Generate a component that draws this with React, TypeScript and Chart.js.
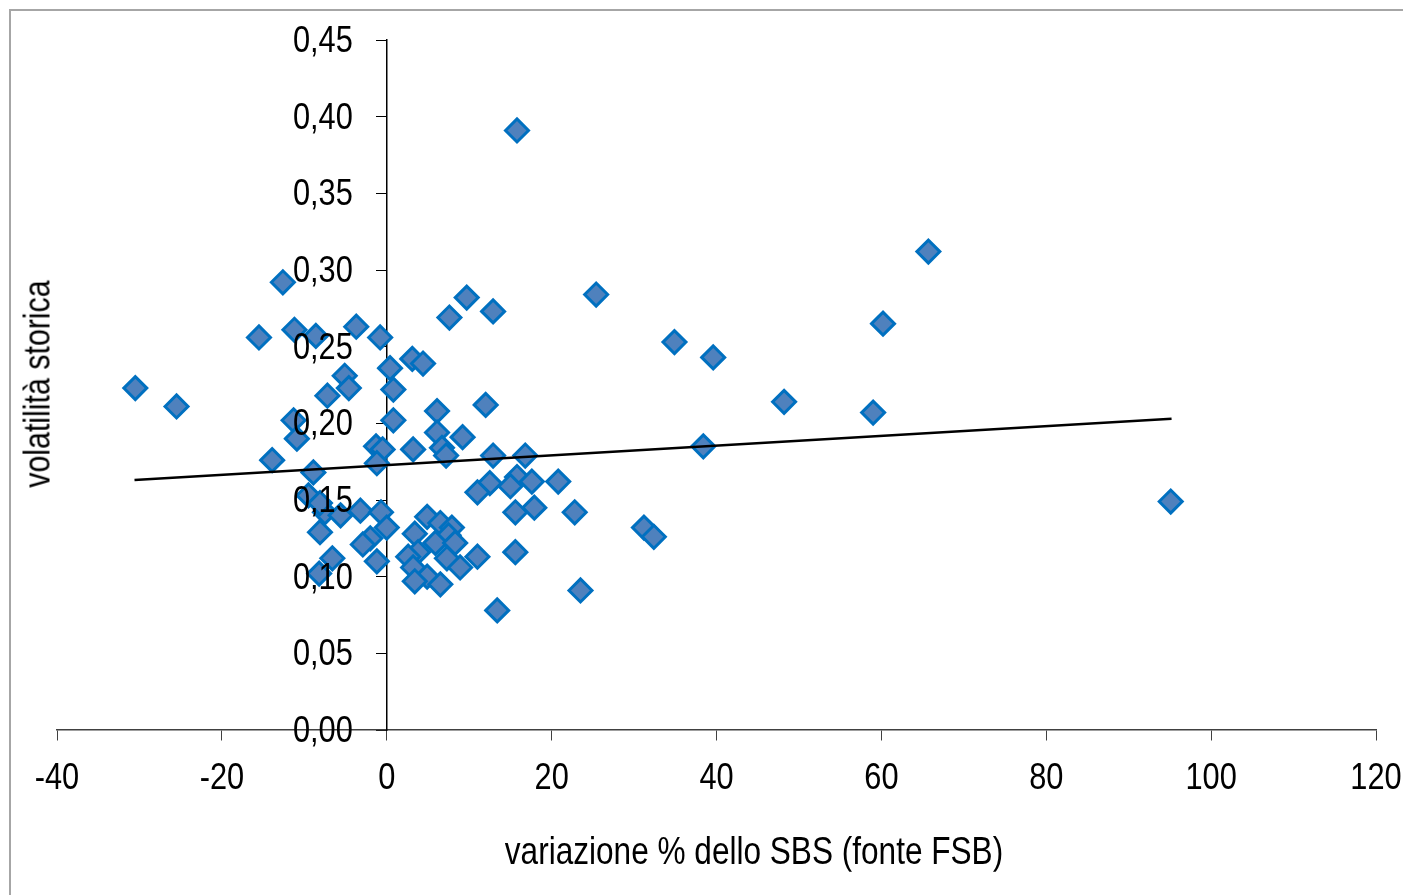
import React, { useEffect, useRef } from "react";
import { Chart, registerables } from "chart.js";

Chart.register(...registerables);

// Scatter data: variazione % dello SBS (x) vs volatilità storica (y)
const sbsChange: number[] = [
  15.8, 65.7, -12.6, 9.7, 25.4, 12.9, 7.6, 60.2, -3.7, -11.2,
  -15.5, -8.6, -0.8, 34.9, 3.1, 4.4, 39.6, 0.4, -5.1, -30.5,
  -4.6, 0.8, -7.2, 48.2, -25.5, 12.0, 6.1, 59.0, 0.8, -11.3,
  6.1, 9.2, -10.9, -1.3, -0.5, 3.2, 6.7, 38.4, 7.2, 12.9,
  16.8, -1.2, -13.9, -8.9, 15.8, 12.5, 17.6, 20.8, 15.0, 11.0,
  95.1, -9.5, -7.5, -5.6, -3.2, -0.7, 15.6, 17.9, 22.8, 0.0,
  4.9, 6.5, 7.9, 31.2, 32.4, -8.1, 3.4, 7.5, -2.0, -2.9,
  5.9, 8.3, 3.8, 2.6, 7.3, 11.0, 15.6, -6.6, -1.2, 8.9,
  3.2, -8.2, 4.9, 3.4, 6.5, 23.5, 13.4, -8.1,
];
const volatility: number[] = [
  0.391, 0.312, 0.292, 0.282, 0.284, 0.273, 0.269, 0.265, 0.263, 0.261,
  0.256, 0.257, 0.256, 0.253, 0.242, 0.239, 0.243, 0.236, 0.231, 0.223,
  0.223, 0.222, 0.218, 0.214, 0.211, 0.212, 0.208, 0.207, 0.202, 0.202,
  0.194, 0.191, 0.190, 0.185, 0.183, 0.183, 0.184, 0.185, 0.179, 0.179,
  0.179, 0.174, 0.176, 0.168, 0.165, 0.161, 0.162, 0.162, 0.159, 0.155,
  0.149, 0.153, 0.142, 0.140, 0.143, 0.142, 0.142, 0.145, 0.142, 0.132,
  0.139, 0.135, 0.132, 0.132, 0.126, 0.129, 0.128, 0.127, 0.125, 0.121,
  0.122, 0.122, 0.116, 0.113, 0.112, 0.113, 0.116, 0.112, 0.110, 0.106,
  0.106, 0.102, 0.100, 0.097, 0.095, 0.091, 0.078, 0.148,
];

// Linear trend line endpoints
const trendX: number[] = [-30.6, 95.2];
const trendY: number[] = [0.163, 0.203];

const xTicks: number[] = [-40, -20, 0, 20, 40, 60, 80, 100, 120];
const yTicks: number[] = [0, 0.05, 0.1, 0.15, 0.2, 0.25, 0.3, 0.35, 0.4, 0.45];
const xTickLabels: string[] = ["-40", "-20", "0", "20", "40", "60", "80", "100", "120"];
const yTickLabels: string[] = ["0,00", "0,05", "0,10", "0,15", "0,20", "0,25", "0,30", "0,35", "0,40", "0,45"];

const xTitle = "variazione % dello SBS (fonte FSB)";
const yTitle = "volatilità storica";

const FONT = "'Liberation Sans', Arial, sans-serif";
const NARROW = 0.82; // Arial Narrow ≈ Arial compressed horizontally

// Draws the axis tick labels in a narrow face (scaled Liberation Sans), at the
// positions the library's own scales give for each tick.
const narrowTickLabels = {
  id: "narrowTickLabels",
  afterDatasetsDraw(chart: any) {
    const ctx: CanvasRenderingContext2D = chart.ctx;
    const xs = chart.scales.x;
    const ys = chart.scales.y;
    const x0 = xs.getPixelForValue(0);
    const y0 = ys.getPixelForValue(0);
    ctx.save();
    ctx.fillStyle = "#000000";
    ctx.font = `37.5px ${FONT}`;
    ctx.textBaseline = "alphabetic";
    ctx.textAlign = "center";
    xs.ticks.forEach((t: any) => {
      const px = xs.getPixelForValue(t.value);
      ctx.save();
      ctx.translate(px, y0 + 59);
      ctx.scale(NARROW, 1);
      ctx.fillText(xTickLabels[xTicks.indexOf(t.value)] ?? String(t.value), 0, 0);
      ctx.restore();
    });
    ctx.textAlign = "right";
    ys.ticks.forEach((t: any) => {
      const py = ys.getPixelForValue(t.value);
      const idx = yTicks.findIndex((v) => Math.abs(v - t.value) < 1e-9);
      ctx.save();
      ctx.translate(x0 - 34, py + 12);
      ctx.scale(NARROW, 1);
      ctx.fillText(idx >= 0 ? yTickLabels[idx] : String(t.value), 0, 0);
      ctx.restore();
    });
    ctx.restore();
  },
};

export default function App() {
  const canvasRef = useRef<HTMLCanvasElement | null>(null);

  useEffect(() => {
    const canvas = canvasRef.current;
    if (!canvas) return;
    const points = sbsChange.map((x, i) => ({ x, y: volatility[i] }));
    const trend = trendX.map((x, i) => ({ x, y: trendY[i] }));

    const chart = new Chart(canvas, {
      type: "scatter",
      data: {
        datasets: [
          {
            type: "line",
            label: "trend",
            data: trend,
            borderColor: "#000000",
            borderWidth: 2.5,
            pointRadius: 0,
            fill: false,
            order: 0,
          } as any,
          {
            label: "banche",
            data: points,
            pointStyle: "rectRot",
            pointRadius: 11.5,
            pointHoverRadius: 11.5,
            pointBorderWidth: 3,
            backgroundColor: "#4F81BD",
            borderColor: "#0070C0",
            order: 1,
          },
        ],
      },
      plugins: [narrowTickLabels],
      options: {
        responsive: false,
        animation: false,
        events: [],
        layout: { padding: { left: 57, top: 40, right: 27, bottom: 165 } },
        plugins: {
          legend: { display: false },
          tooltip: { enabled: false },
        },
        scales: {
          x: {
            type: "linear",
            position: { y: 0 } as any,
            min: -40,
            max: 120,
            afterBuildTicks: (scale: any) => {
              scale.ticks = xTicks.map((v) => ({ value: v }));
            },
            grid: {
              drawOnChartArea: false,
              drawTicks: true,
              tickLength: 10,
              color: "#404040",
            },
            border: { display: true, color: "#404040", width: 1.5 },
            ticks: { display: false },
          },
          y: {
            type: "linear",
            position: { x: 0 } as any,
            min: 0,
            max: 0.45,
            afterBuildTicks: (scale: any) => {
              scale.ticks = yTicks.map((v) => ({ value: v }));
            },
            grid: {
              drawOnChartArea: false,
              drawTicks: true,
              tickLength: 10,
              color: "#000000",
            },
            border: { display: true, color: "#000000", width: 1.5 },
            ticks: { display: false },
          },
        },
      },
    });
    return () => chart.destroy();
  }, []);

  return (
    <div
      style={{
        position: "absolute",
        left: 0,
        top: 0,
        width: 1403,
        height: 895,
        overflow: "hidden",
        background: "#ffffff",
      }}
    >
      <div
        style={{
          position: "absolute",
          left: 9,
          top: 9,
          width: 1500,
          height: 1000,
          border: "2px solid #A6A6A6",
        }}
      />
      <canvas
        ref={canvasRef}
        width={1403}
        height={895}
        style={{ position: "absolute", left: 0, top: 0, width: 1403, height: 895 }}
      />
      <div
        style={{
          position: "absolute",
          left: 754,
          top: 851,
          transform: `translate(-50%, -50%) scaleX(${NARROW})`,
          whiteSpace: "nowrap",
          fontFamily: FONT,
          fontSize: 38.5,
          color: "#000",
          lineHeight: 1,
        }}
      >
        {xTitle}
      </div>
      <div
        style={{
          position: "absolute",
          left: 37,
          top: 384,
          transform: `translate(-50%, -50%) rotate(-90deg) scaleX(${NARROW})`,
          whiteSpace: "nowrap",
          fontFamily: FONT,
          fontSize: 37,
          color: "#000",
          lineHeight: 1,
        }}
      >
        {yTitle}
      </div>
    </div>
  );
}
